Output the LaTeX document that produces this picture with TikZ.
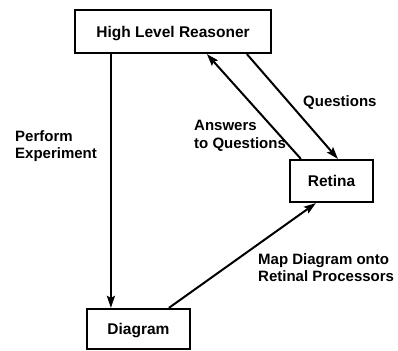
\documentclass[tikz,border=0pt]{standalone}
\usepackage{fontspec}
\setmainfont{Liberation Sans}
\usetikzlibrary{arrows.meta}
\begin{document}
\begin{tikzpicture}[x=1pt,y=1pt,
  box/.style={draw, line width=2.2pt, inner sep=0pt, text height=11.1pt, text depth=0pt,
    font=\bfseries\fontsize{15.5}{18}\selectfont},
  lbl/.style={inner sep=0pt, anchor=north west, align=left,
    font=\bfseries\fontsize{15}{17.5}\selectfont},
  arr/.style={line width=2pt, -{Stealth[length=12pt,width=8pt,inset=2pt]}}]
\useasboundingbox (0,0) rectangle (398,-350);
\node[box, minimum width=196pt, minimum height=43pt] (hlr) at (173,-31.5) {High Level Reasoner};
\node[box, minimum width=83pt, minimum height=42pt] (ret) at (331.5,-181) {Retina};
\node[box, minimum width=103pt, minimum height=40pt] (diag) at (138.5,-329) {Diagram};

\draw[arr] ([xshift=37pt]hlr.south west) -- ([xshift=25pt]diag.north west);
\draw[arr] ([xshift=12pt]ret.north west) -- ([xshift=133pt]hlr.south west);
\draw[arr] ([xshift=173pt]hlr.south west) -- ([xshift=49pt]ret.north west);
\draw[arr] ([xshift=83pt]diag.north west) -- ([xshift=27pt]ret.south west);

\node[lbl] (perf) at (15,-130) {Perform\\Experiment};
\node[lbl] (ans) at (194,-120) {Answers\\to Questions};
\node[lbl] (q) at (303,-95) {Questions};
\node[lbl] (map) at (258,-253) {Map Diagram onto\\Retinal Processors};
\end{tikzpicture}
\end{document}
